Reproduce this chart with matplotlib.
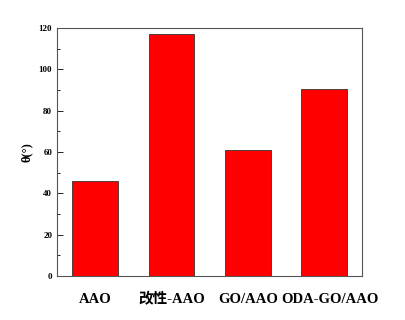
import matplotlib
matplotlib.use('Agg')
import matplotlib.pyplot as plt
import matplotlib.transforms as mtransforms
from matplotlib.ticker import MultipleLocator

samples = ['AAO', '改性-AAO', 'GO/AAO', 'ODA-GO/AAO']
angles = [46, 117, 61, 90.5]

plt.rcParams['font.family'] = ['Liberation Serif', 'Noto Sans CJK SC']
plt.rcParams['font.weight'] = 'bold'

fig = plt.figure(figsize=(4.05, 3.2), dpi=100)
ax = fig.add_axes([0.141, 0.1375, 0.753, 0.775])

ax.bar(range(len(samples)), angles, width=0.6, color='#ff0000', edgecolor='#333333', linewidth=0.6)

ax.set_xlim(-0.5, 3.5)
ax.set_ylim(0, 120)
ax.yaxis.set_major_locator(MultipleLocator(20))
ax.yaxis.set_minor_locator(MultipleLocator(10))
ax.set_xticks(range(len(samples)))
ax.set_xticklabels(samples, fontsize=10.5, fontweight='bold')
ax.tick_params(axis='x', length=0, pad=12)
ax.tick_params(axis='y', which='both', direction='in', labelsize=6.5, width=0.6)
ax.tick_params(axis='y', which='major', length=4)
ax.tick_params(axis='y', which='minor', length=2)
for s in ax.spines.values():
    s.set_color('#555555')
    s.set_linewidth(0.8)

# the last label sits a little to the right in the original
lbl = ax.get_xticklabels()[-1]
lbl.set_transform(lbl.get_transform() + mtransforms.ScaledTranslation(6 / 100, 0, fig.dpi_scale_trans))

ax.set_ylabel('θ(°)', fontsize=9, fontweight='bold', labelpad=4)

fig.savefig('out.png', dpi=100)
